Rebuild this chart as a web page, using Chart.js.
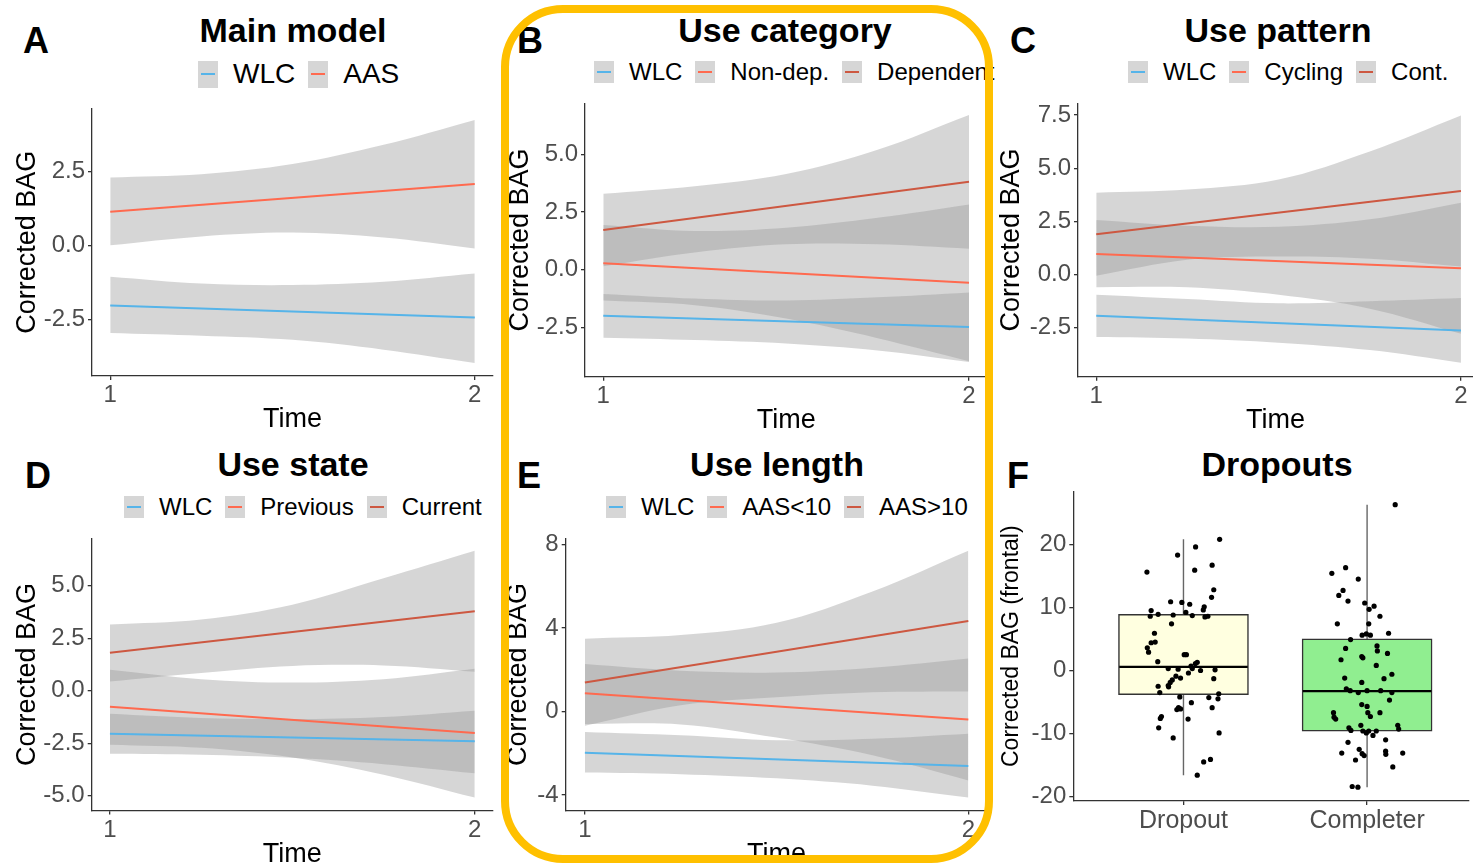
<!DOCTYPE html>
<html>
<head>
<meta charset="utf-8">
<script src="https://cdn.jsdelivr.net/npm/chart.js@4.4.1/dist/chart.umd.min.js"></script>
<style>
  body { margin: 0; background: #fff; width: 1473px; height: 867px; overflow: hidden; position: relative;
         font-family: "Liberation Sans", Arial, sans-serif; }
  canvas { position: absolute; }
  .letter { position: absolute; font-weight: bold; font-size: 36px; line-height: 1; transform: translate(-50%, -50%); }
  .title { position: absolute; font-weight: bold; font-size: 34px; line-height: 1; white-space: nowrap; transform: translate(-50%, -50%); }
  .legend { position: absolute; display: flex; align-items: center; white-space: nowrap; line-height: 1; transform: translateY(-50%); color: #000; }
  .key { width: 20px; background: #d6d6d6; position: relative; margin-right: 15px; }
  .key span { position: absolute; left: 3px; right: 3px; top: 50%; height: 2px; margin-top: -1px; }
  .legend .lab { margin-right: 13px; }
  #frame { position: absolute; left: 501px; top: 5px; width: 492px; height: 858px; box-sizing: border-box;
           border: 8px solid #FFC000; border-radius: 62px; z-index: 10; }
</style>
</head>
<body>

<script>
// ---- data ----
const ribbonTimes = [1, 1.25, 1.5, 1.75, 2];
const lineTimes = [1, 2];
const timeTicks = [1, 2];

// A: main model
const aLabels = ['WLC', 'AAS'];
const aWlcLine = [-2.03, -2.44];
const aWlcUpper = [-1.06, -1.29, -1.34, -1.23, -0.95];
const aWlcLower = [-2.96, -3.05, -3.19, -3.52, -3.97];
const aAasLine = [1.13, 2.07];
const aAasUpper = [2.29, 2.40, 2.74, 3.39, 4.23];
const aAasLower = [0.00, 0.30, 0.43, 0.26, -0.11];
const aTicks = [-2.5, 0, 2.5];
const aTickLabels = ['-2.5', '0.0', '2.5'];

// B: use category
const bLabels = ['WLC', 'Non-dep.', 'Dependent'];
const bWlcLine = [-2.00, -2.49];
const bWlcUpper = [-1.05, -1.25, -1.34, -1.20, -0.99];
const bWlcLower = [-2.95, -3.05, -3.20, -3.50, -4.00];
const bNonLine = [0.28, -0.57];
const bNonUpper = [1.94, 1.68, 1.82, 2.25, 2.83];
const bNonLower = [-1.34, -1.54, -2.12, -2.97, -3.97];
const bDepLine = [1.72, 3.81];
const bDepUpper = [3.29, 3.62, 4.15, 5.20, 6.71];
const bDepLower = [0.15, 0.75, 1.10, 1.10, 0.91];
const bTicks = [-2.5, 0, 2.5, 5];
const bTickLabels = ['-2.5', '0.0', '2.5', '5.0'];

// C: use pattern
const cLabels = ['WLC', 'Cycling', 'Cont.'];
const cWlcLine = [-1.93, -2.63];
const cWlcUpper = [-0.95, -1.15, -1.35, -1.25, -1.10];
const cWlcLower = [-2.93, -3.00, -3.20, -3.55, -4.14];
const cCycLine = [0.97, 0.30];
const cCycUpper = [2.57, 2.30, 2.25, 2.60, 3.38];
const cCycLower = [-0.59, -0.60, -0.95, -1.60, -2.78];
const cContLine = [1.90, 3.93];
const cContUpper = [3.85, 4.00, 4.47, 5.79, 7.48];
const cContLower = [-0.05, 0.70, 0.85, 0.75, 0.38];
const cTicks = [-2.5, 0, 2.5, 5, 7.5];
const cTickLabels = ['-2.5', '0.0', '2.5', '5.0', '7.5'];

// D: use state
const dLabels = ['WLC', 'Previous', 'Current'];
const dWlcLine = [-2.05, -2.41];
const dWlcUpper = [-1.10, -1.30, -1.35, -1.25, -0.95];
const dWlcLower = [-3.00, -3.05, -3.20, -3.50, -3.94];
const dPrevLine = [-0.76, -2.02];
const dPrevUpper = [1.00, 0.55, 0.39, 0.55, 1.05];
const dPrevLower = [-2.57, -2.72, -3.18, -4.00, -5.09];
const dCurLine = [1.81, 3.79];
const dCurUpper = [3.15, 3.39, 4.10, 5.36, 6.67];
const dCurLower = [0.44, 0.85, 1.18, 1.20, 0.90];
const dTicks = [-5, -2.5, 0, 2.5, 5];
const dTickLabels = ['-5.0', '-2.5', '0.0', '2.5', '5.0'];

// E: use length
const eLabels = ['WLC', 'AAS<10', 'AAS>10'];
const eWlcLine = [-1.98, -2.61];
const eWlcUpper = [-0.98, -1.14, -1.38, -1.30, -1.06];
const eWlcLower = [-2.92, -3.00, -3.20, -3.55, -4.12];
const eLowLine = [0.87, -0.38];
const eLowUpper = [2.27, 1.95, 1.87, 2.10, 2.54];
const eLowLower = [-0.60, -0.62, -1.25, -2.10, -3.30];
const eHighLine = [1.39, 4.33];
const eHighUpper = [3.49, 3.66, 4.25, 5.75, 7.70];
const eHighLower = [-0.68, 0.30, 0.68, 0.92, 0.96];
const eTicks = [-4, 0, 4, 8];
const eTickLabels = ['-4', '0', '4', '8'];

// F: dropouts
const groups = ['Dropout', 'Completer'];
const boxQ1 = [-3.84, -9.63];
const boxMedian = [0.58, -3.26];
const boxQ3 = [8.90, 5.00];
const whiskerLow = [-16.6, -18.5];
const whiskerHigh = [20.8, 26.3];
const dropoutValues = [20.8, 19.6, 18.3, 15.6, 15.9, 16.7, 12.8, 11.6, 10.9, 10.8, 10.5, 10.1, 9.6, 9.5, 8.6, 8.9, 8.8, 9.2, 8.7, 8.5, 8.6, 7.4, 5.9, 4.4, 4.5, 3.6, 2.9, 2.5, 2.5, 1.4, 1.3, 0.7, 1.1, 0.0, 0.3, 0.2, -0.4, 0.3, 0.1, -0.9, -1.2, -1.5, -1.9, -2.6, -2.5, -1.3, -3.5, -2.4, -3.7, -4.2, -4.3, -4.5, -5.1, -5.9, -5.9, -6.2, -6.1, -7.3, -7.6, -7.7, -9.1, -9.9, -10.7, -14.5, -14.1, -16.6];
const dropoutJitter = [0.197, 0.066, -0.032, -0.199, 0.061, 0.156, 0.165, 0.153, -0.070, -0.009, 0.034, 0.113, 0.108, -0.176, -0.181, -0.138, -0.056, 0.013, 0.048, 0.117, 0.133, -0.065, -0.158, -0.176, -0.154, -0.197, -0.190, 0.004, 0.016, -0.140, 0.075, 0.041, 0.065, 0.093, -0.083, -0.029, 0.027, 0.048, 0.172, -0.041, -0.016, -0.061, -0.072, -0.081, -0.138, 0.165, -0.129, -0.083, 0.192, -0.020, 0.138, 0.188, 0.043, 0.156, -0.027, -0.036, -0.016, -0.120, -0.126, 0.025, -0.135, 0.194, -0.056, 0.110, 0.147, 0.075];
const completerValues = [26.3, 15.4, 16.3, 14.5, 12.7, 11.9, 11.0, 10.7, 9.7, 10.2, 8.6, 7.4, 7.4, 5.6, 5.8, 5.6, 5.9, 4.9, 3.5, 3.9, 3.1, 2.7, 1.7, 2.2, 2.0, 0.8, -0.6, -1.2, -1.3, -1.9, -2.9, -3.2, -3.5, -3.2, -3.2, -3.5, -4.7, -5.4, -5.7, -6.7, -7.4, -7.7, -6.7, -7.3, -6.7, -8.7, -9.1, -9.5, -9.6, -9.9, -9.6, -9.6, -10.3, -8.7, -9.3, -11.4, -11.0, -12.5, -13.1, -13.2, -13.5, -12.8, -13.3, -13.1, -14.2, -15.3, -18.4, -18.5];
const completerJitter = [0.153, -0.192, -0.117, -0.048, -0.131, -0.154, -0.104, -0.013, 0.011, 0.038, 0.070, -0.162, 0.009, -0.027, -0.004, 0.018, 0.117, -0.090, -0.117, 0.054, 0.056, 0.111, -0.142, -0.029, -0.023, 0.050, 0.135, -0.122, 0.092, -0.029, -0.113, -0.092, -0.048, 0.000, 0.074, 0.135, 0.122, -0.029, 0.000, -0.183, -0.180, -0.171, 0.004, 0.018, 0.070, -0.034, -0.099, -0.088, -0.023, -0.004, 0.009, 0.050, 0.032, 0.167, 0.172, -0.104, 0.101, -0.043, -0.138, -0.027, -0.016, 0.101, 0.102, 0.194, -0.063, 0.140, -0.081, -0.050];
const fTicks = [-20, -10, 0, 10, 20];
const fTickLabels = ['-20', '-10', '0', '10', '20'];

// ---- styles ----
Chart.defaults.font.family = '"Liberation Sans", Arial, sans-serif';
const axisGrey = '#333333';
const tickGrey = '#4d4d4d';
const ribbonFill = 'rgba(153,153,153,0.4)';
const wlcColor = '#56b4e9';
const midColor = '#ff6a4f';
const highColor = '#cd5841';
const boxFills = ['#ffffe0', '#90ee90'];

function addCanvas(id, lay) {
  const c = document.createElement('canvas');
  c.id = id;
  c.width = lay.w; c.height = lay.h;
  c.style.left = lay.l + 'px'; c.style.top = lay.t + 'px';
  c.style.width = lay.w + 'px'; c.style.height = lay.h + 'px';
  document.body.appendChild(c);
  return c.getContext('2d');
}

function addText(cls, x, y, text) {
  const d = document.createElement('div');
  d.className = cls;
  d.style.left = x + 'px'; d.style.top = y + 'px';
  d.textContent = text;
  document.body.appendChild(d);
}

function addLegend(x, y, labels, colors, fontSize, keyH) {
  const d = document.createElement('div');
  d.className = 'legend';
  d.style.left = x + 'px'; d.style.top = y + 'px'; d.style.fontSize = fontSize + 'px';
  labels.forEach((lab, i) => {
    const k = document.createElement('div');
    k.className = 'key';
    k.style.height = keyH + 'px';
    const ln = document.createElement('span');
    ln.style.background = colors[i];
    k.appendChild(ln);
    const t = document.createElement('div');
    t.className = 'lab';
    t.textContent = lab;
    d.appendChild(k); d.appendChild(t);
  });
  document.body.appendChild(d);
}

function axisOpts(extra) {
  return Object.assign({
    grid: { drawOnChartArea: false, drawTicks: true, tickLength: 4, color: axisGrey, lineWidth: 1.3, offset: false },
    border: { display: true, color: axisGrey, width: 1.3 }
  }, extra);
}

function ribbonChart(id, lay, yMin, yMax, yTicks, yTickLabels, series, xMax) {
  const ctx = addCanvas(id, lay);
  const datasets = [];
  series.forEach(s => {
    datasets.push({
      type: 'line', order: 0, fill: false, pointRadius: 0, borderColor: s.color, borderWidth: 2,
      data: lineTimes.map((t, i) => ({ x: t, y: s.line[i] }))
    });
  });
  series.forEach(s => {
    datasets.push({
      type: 'line', order: 1, fill: '+1', backgroundColor: ribbonFill, pointRadius: 0,
      borderWidth: 0, borderColor: 'rgba(0,0,0,0)', tension: 0.35,
      data: ribbonTimes.map((t, i) => ({ x: t, y: s.upper[i] }))
    });
    datasets.push({
      type: 'line', order: 1, fill: false, pointRadius: 0,
      borderWidth: 0, borderColor: 'rgba(0,0,0,0)', tension: 0.35,
      data: ribbonTimes.map((t, i) => ({ x: t, y: s.lower[i] }))
    });
  });
  new Chart(ctx, {
    type: 'line',
    data: { datasets },
    options: {
      responsive: false, animation: false, devicePixelRatio: 1,
      layout: { padding: { top: lay.pt, right: lay.pr, left: 0, bottom: 0 } },
      plugins: { legend: { display: false }, tooltip: { enabled: false } },
      scales: {
        x: axisOpts({
          type: 'linear', min: 0.95, max: xMax,
          afterBuildTicks: s => { s.ticks = timeTicks.map(v => ({ value: v })); },
          afterFit: s => { s.height = lay.xh; },
          ticks: { font: { size: 24 }, color: tickGrey, padding: 1, maxRotation: 0, callback: v => String(v) },
          title: { display: true, text: 'Time', color: '#000', font: { size: 27 }, padding: { top: 0, bottom: 4 } }
        }),
        y: axisOpts({
          type: 'linear', min: yMin, max: yMax,
          afterBuildTicks: s => { s.ticks = yTicks.map(v => ({ value: v })); },
          afterFit: s => { s.width = lay.yw; },
          ticks: { font: { size: 24 }, color: tickGrey, padding: 3, callback: (v, i) => yTickLabels[i] },
          title: { display: true, text: 'Corrected BAG', color: '#000', font: { size: 27 }, padding: { top: lay.yt, bottom: 0 } }
        })
      }
    }
  });
}

// ---- panel A ----
addText('letter', 36, 41, 'A');
addText('title', 293, 30, 'Main model');
addLegend(198, 74, aLabels, [wlcColor, midColor], 28, 27);
ribbonChart('chartA', { l: 0, t: 91, w: 495, h: 349, pt: 16, pr: 2, yw: 92, xh: 64, yt: 11 },
  -4.41, 4.62, aTicks, aTickLabels,
  [{ line: aWlcLine, upper: aWlcUpper, lower: aWlcLower, color: wlcColor },
   { line: aAasLine, upper: aAasUpper, lower: aAasLower, color: midColor }], 2.05);

// ---- panel B ----
addText('letter', 530, 41, 'B');
addText('title', 785, 30, 'Use category');
addLegend(594, 72, bLabels, [wlcColor, midColor, highColor], 24, 22);
ribbonChart('chartB', { l: 495, t: 85.7, w: 495, h: 355.3, pt: 16, pr: 2.7, yw: 90, xh: 64.3, yt: 9 },
  -4.64, 7.21, bTicks, bTickLabels,
  [{ line: bWlcLine, upper: bWlcUpper, lower: bWlcLower, color: wlcColor },
   { line: bNonLine, upper: bNonUpper, lower: bNonLower, color: midColor },
   { line: bDepLine, upper: bDepUpper, lower: bDepLower, color: highColor }], 2.05);

// ---- panel C ----
addText('letter', 1023, 41, 'C');
addText('title', 1278, 30, 'Use pattern');
addLegend(1128, 72, cLabels, [wlcColor, midColor, highColor], 24, 22);
ribbonChart('chartC', { l: 990, t: 85.7, w: 483, h: 355.3, pt: 16, pr: 0, yw: 88, xh: 64.3, yt: 5.5 },
  -4.8, 8.05, cTicks, cTickLabels,
  [{ line: cWlcLine, upper: cWlcUpper, lower: cWlcLower, color: wlcColor },
   { line: cCycLine, upper: cCycUpper, lower: cCycLower, color: midColor },
   { line: cContLine, upper: cContUpper, lower: cContLower, color: highColor }], 2.033);

// ---- panel D ----
addText('letter', 38, 476, 'D');
addText('title', 293, 464, 'Use state');
addLegend(124, 507, dLabels, [wlcColor, midColor, highColor], 24, 22);
ribbonChart('chartD', { l: 0, t: 520.7, w: 495, h: 354.5, pt: 16, pr: 2, yw: 91.7, xh: 64.5, yt: 11 },
  -5.71, 7.26, dTicks, dTickLabels,
  [{ line: dWlcLine, upper: dWlcUpper, lower: dWlcLower, color: wlcColor },
   { line: dPrevLine, upper: dPrevUpper, lower: dPrevLower, color: midColor },
   { line: dCurLine, upper: dCurUpper, lower: dCurLower, color: highColor }], 2.05);

// ---- panel E ----
addText('letter', 529, 476, 'E');
addText('title', 777, 464, 'Use length');
addLegend(606, 507, eLabels, [wlcColor, midColor, highColor], 24, 22);
ribbonChart('chartE', { l: 495, t: 520.7, w: 495, h: 354.5, pt: 16, pr: 2.5, yw: 70.7, xh: 64.5, yt: 7 },
  -4.74, 8.29, eTicks, eTickLabels,
  [{ line: eWlcLine, upper: eWlcUpper, lower: eWlcLower, color: wlcColor },
   { line: eLowLine, upper: eLowUpper, lower: eLowLower, color: midColor },
   { line: eHighLine, upper: eHighUpper, lower: eHighLower, color: highColor }], 2.05);

// ---- panel F ----
addText('letter', 1018, 476, 'F');
addText('title', 1277, 464, 'Dropouts');
(function () {
  const lay = { l: 990, t: 474, w: 483, h: 387, pt: 16, pr: 0, yw: 83.3, xh: 60 };
  const ctx = addCanvas('chartF', lay);
  const half = 0.35;
  const datasets = [];
  const pts = [];
  dropoutValues.forEach((v, i) => pts.push({ x: 1 + dropoutJitter[i], y: v }));
  completerValues.forEach((v, i) => pts.push({ x: 2 + completerJitter[i], y: v }));
  datasets.push({ type: 'scatter', order: 0, data: pts, pointRadius: 2.6, pointBackgroundColor: '#000', pointBorderWidth: 0 });
  groups.forEach((g, i) => {
    datasets.push({ type: 'line', order: 1, pointRadius: 0, borderColor: '#000', borderWidth: 2.2, fill: false,
      data: [{ x: i + 1 - half, y: boxMedian[i] }, { x: i + 1 + half, y: boxMedian[i] }] });
  });
  datasets.push({ type: 'bar', order: 2, barThickness: 130, borderSkipped: false, borderWidth: 1.5,
    borderColor: axisGrey, backgroundColor: boxFills,
    data: groups.map((g, i) => ({ x: i + 1, y: [boxQ1[i], boxQ3[i]] })) });
  groups.forEach((g, i) => {
    datasets.push({ type: 'line', order: 3, pointRadius: 0, borderColor: '#666', borderWidth: 1.4, fill: false,
      data: [{ x: i + 1, y: whiskerLow[i] }, { x: i + 1, y: whiskerHigh[i] }] });
  });
  new Chart(ctx, {
    type: 'scatter',
    data: { datasets },
    options: {
      responsive: false, animation: false, devicePixelRatio: 1,
      layout: { padding: { top: lay.pt, right: lay.pr, left: 0, bottom: 0 } },
      plugins: { legend: { display: false }, tooltip: { enabled: false } },
      scales: {
        x: axisOpts({
          type: 'linear', min: 0.4, max: 2.555, offset: false,
          afterBuildTicks: s => { s.ticks = groups.map((g, i) => ({ value: i + 1 })); },
          afterFit: s => { s.height = lay.xh; },
          ticks: { font: { size: 25 }, color: tickGrey, padding: 1, maxRotation: 0, callback: (v, i) => groups[i] }
        }),
        y: axisOpts({
          type: 'linear', min: -20.7, max: 28.4,
          afterBuildTicks: s => { s.ticks = fTicks.map(v => ({ value: v })); },
          afterFit: s => { s.width = lay.yw; },
          ticks: { font: { size: 24 }, color: tickGrey, padding: 3, callback: (v, i) => fTickLabels[i] },
          title: { display: true, text: 'Corrected BAG (frontal)', color: '#000', font: { size: 23 }, padding: { top: 8, bottom: 0 } }
        })
      }
    }
  });
})();
</script>
<div id="frame"></div>
</body>
</html>
